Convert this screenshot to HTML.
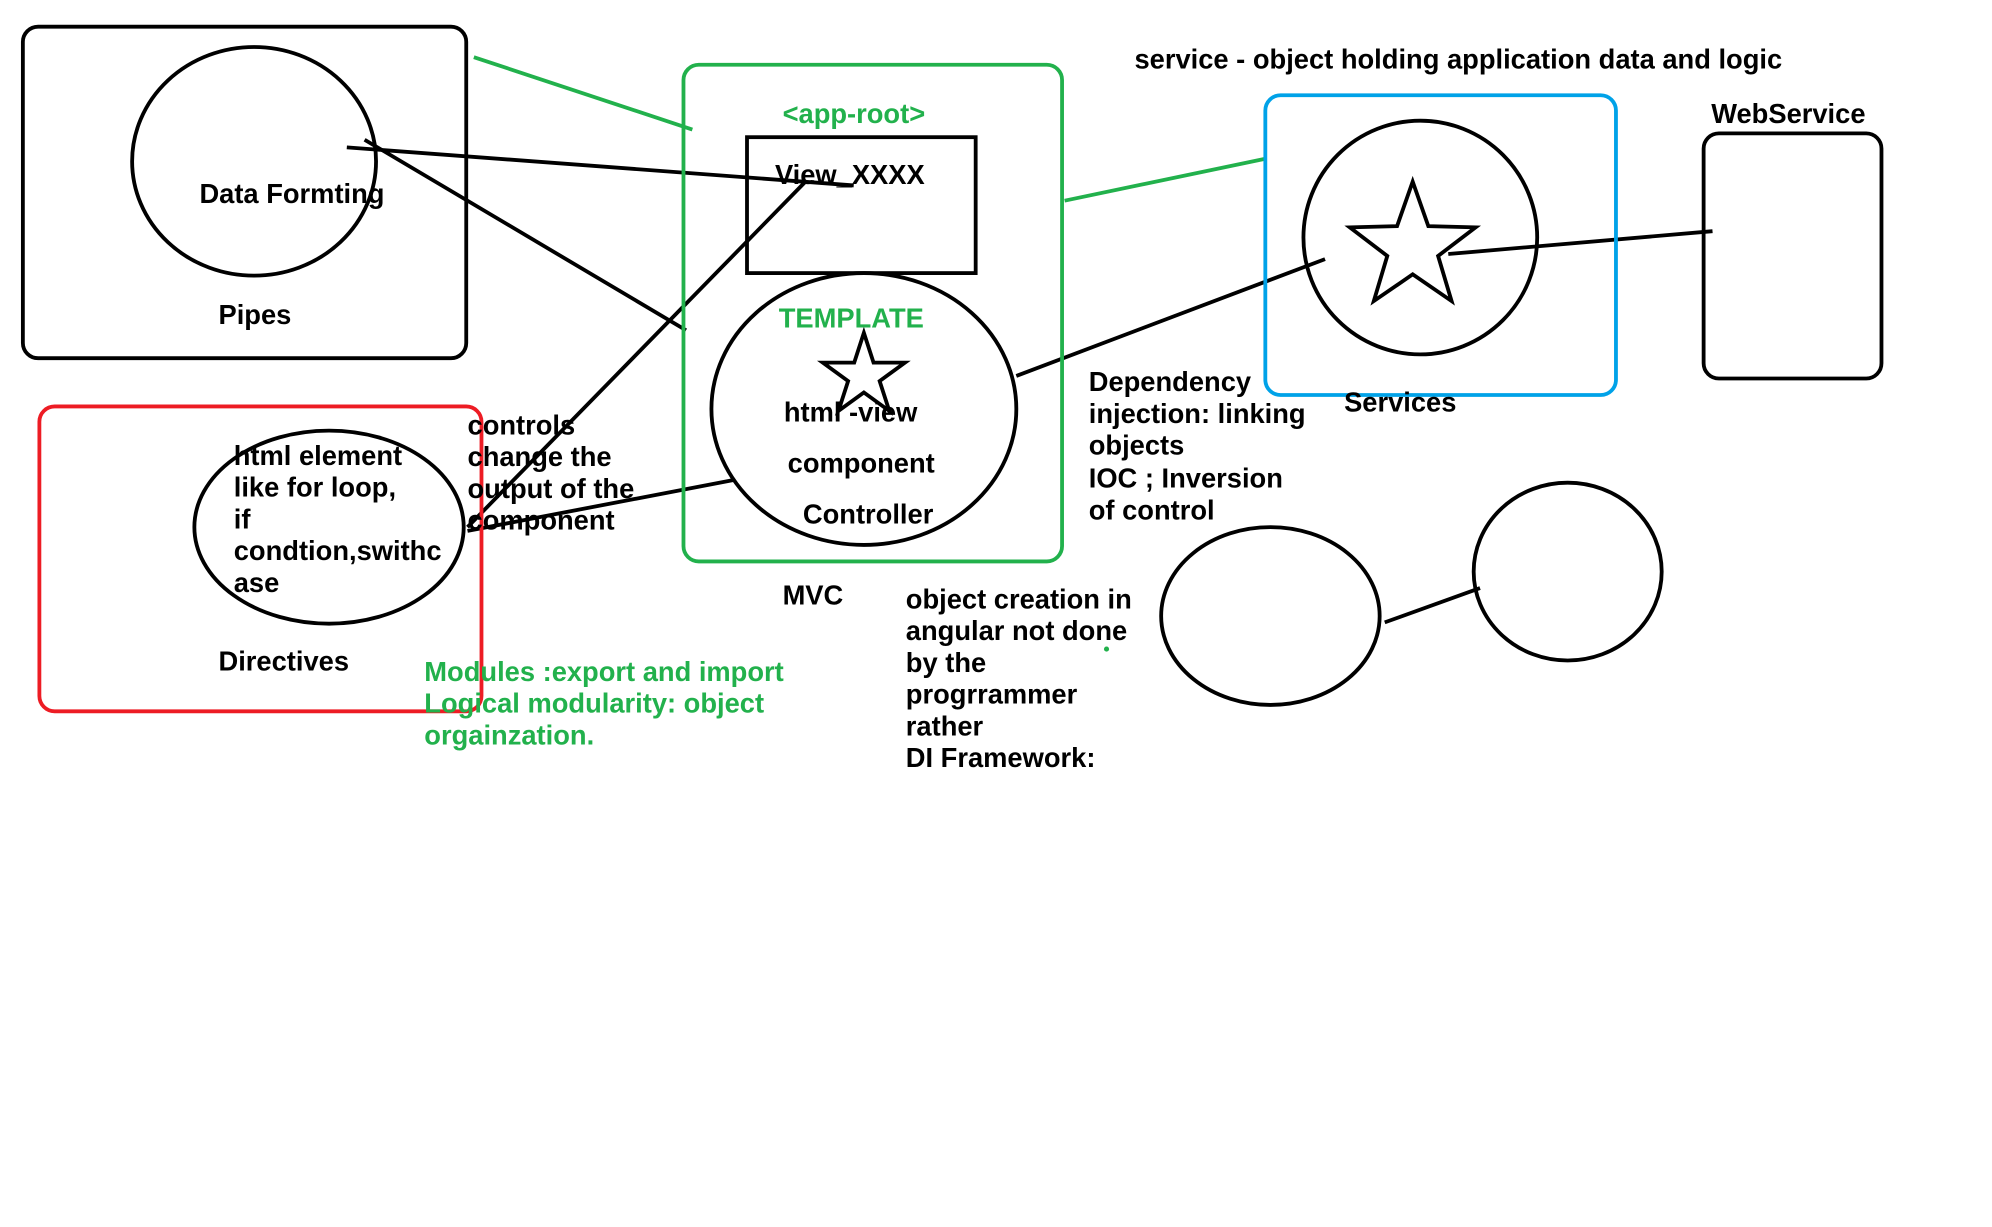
<!DOCTYPE html>
<html><head><meta charset="utf-8"><style>
html,body{margin:0;padding:0;background:#fff;}
svg{display:block;}
text{font-family:"Liberation Sans",Arial,sans-serif;font-size:21.5px;font-weight:bold;fill:#000;}
.g{fill:#22b14c;}
</style></head><body>
<svg width="1992" height="1227" viewBox="0 0 1568 966" preserveAspectRatio="none" xmlns="http://www.w3.org/2000/svg">
<g fill="none" stroke="#000" stroke-width="3">
<rect x="18" y="21" width="349" height="261" rx="12"/>
<ellipse cx="200" cy="127" rx="96" ry="90"/>
<rect x="588" y="108" width="180" height="107"/>
<ellipse cx="680" cy="322" rx="120" ry="107"/>
<polygon points="680,262 687.6,285.5 712.3,285.5 692.4,300 700,323.5 680,309 660,323.5 667.6,300 647.7,285.5 672.4,285.5"/>
<line x1="273" y1="116" x2="672" y2="146"/>
<line x1="287" y1="110" x2="540" y2="260"/>
<line x1="635" y1="142" x2="368" y2="415"/>
<line x1="577" y1="378" x2="368" y2="418"/>
<line x1="800" y1="296" x2="1043" y2="204"/>
<ellipse cx="1118" cy="187" rx="92" ry="92"/>
<polygon points="1112,143 1124.3,178 1161.5,179 1132,201.5 1142.6,237 1112,216 1081.4,237 1092,201.5 1062.5,179 1099.7,178"/>
<line x1="1140" y1="200" x2="1348" y2="182"/>
<rect x="1341" y="105" width="140" height="193" rx="12"/>
<ellipse cx="259" cy="415" rx="106" ry="76"/>
<ellipse cx="1000" cy="485" rx="86" ry="70"/>
<ellipse cx="1234" cy="450" rx="74" ry="70"/>
<line x1="1090" y1="490" x2="1165" y2="463"/>
</g>
<g fill="none" stroke="#22b14c" stroke-width="3">
<line x1="373" y1="45" x2="545" y2="102"/>
<rect x="538" y="51" width="298" height="391" rx="12"/>
<line x1="838" y1="158" x2="996" y2="125"/>
</g>
<rect x="996" y="75" width="276" height="236" rx="12" fill="none" stroke="#00a2e8" stroke-width="3"/>
<rect x="31" y="320" width="348" height="240" rx="12" fill="none" stroke="#ed1c24" stroke-width="3"/>
<circle cx="871" cy="511" r="2" fill="#22b14c"/>

<text x="157" y="160">Data Formting</text>
<text x="172" y="255">Pipes</text>
<text x="616" y="97" class="g">&lt;app-root&gt;</text>
<text x="610" y="145">View_XXXX</text>
<text x="613" y="258" class="g">TEMPLATE</text>
<text x="617" y="332">html -view</text>
<text x="620" y="372">component</text>
<text x="632" y="412">Controller</text>
<text x="893" y="54">service - object holding application data and logic</text>
<text x="1347" y="97">WebService</text>
<text x="1058" y="324">Services</text>
<text x="857" y="308">Dependency</text>
<text x="857" y="333">injection: linking</text>
<text x="857" y="358">objects</text>
<text x="857" y="384"> IOC ; Inversion</text>
<text x="857" y="409"> of control</text>
<text x="184" y="366">html element</text>
<text x="184" y="391">like for loop,</text>
<text x="184" y="416">if</text>
<text x="184" y="441">condtion,swithc</text>
<text x="184" y="466">ase</text>
<text x="172" y="528">Directives</text>
<text x="368" y="342">controls</text>
<text x="368" y="367">change the</text>
<text x="368" y="392">output of the</text>
<text x="368" y="417">component</text>
<text x="616" y="476">MVC</text>
<text x="713" y="479">object creation in</text>
<text x="713" y="504">angular not done</text>
<text x="713" y="529">by the</text>
<text x="713" y="554">progrrammer</text>
<text x="713" y="579">rather</text>
<text x="713" y="604">DI Framework:</text>
<text x="334" y="536" class="g">Modules :export and import</text>
<text x="334" y="561" class="g">Logical modularity: object</text>
<text x="334" y="586" class="g">orgainzation.</text>
</svg>
</body></html>
